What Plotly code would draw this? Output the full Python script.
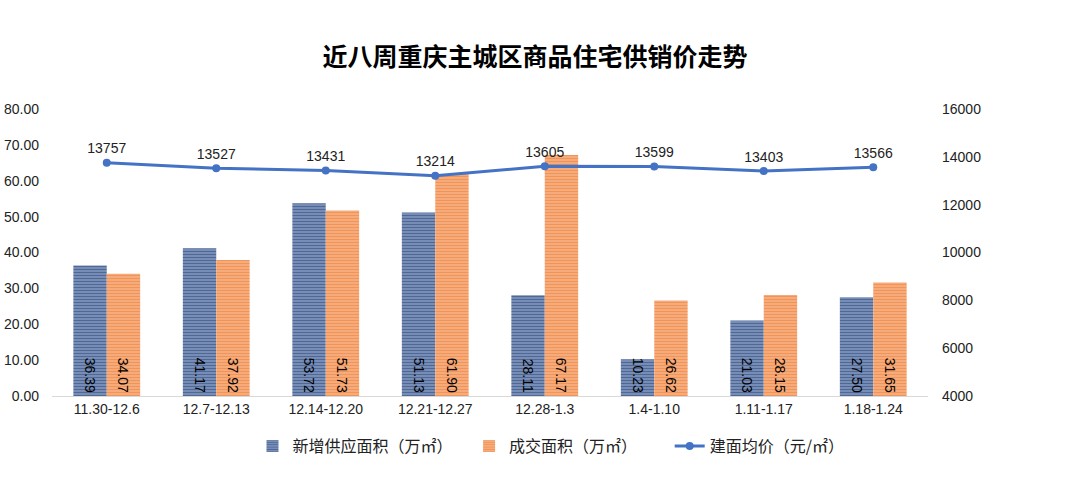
import plotly.graph_objects as go

categories = ["11.30-12.6", "12.7-12.13", "12.14-12.20", "12.21-12.27",
              "12.28-1.3", "1.4-1.10", "1.11-1.17", "1.18-1.24"]
supply = [36.39, 41.17, 53.72, 51.13, 28.11, 10.23, 21.03, 27.50]
deals = [34.07, 37.92, 51.73, 61.90, 67.17, 26.62, 28.15, 31.65]
price = [13757, 13527, 13431, 13214, 13605, 13599, 13403, 13566]

left_ticks = [0, 10, 20, 30, 40, 50, 60, 70, 80]
right_ticks = [4000, 6000, 8000, 10000, 12000, 14000, 16000]

FONT = "Liberation Sans, Noto Sans CJK SC, sans-serif"
CJK = "Noto Sans CJK SC, sans-serif"

W, H = 1080, 487
PL, PR, PT, PB = 52, 928, 109, 396  # plot area in page pixels

fig = go.Figure()
fig.add_trace(go.Bar(
    x=categories, y=supply, name="新增供应面积（万㎡）\u3000\u00a0",
    text=[f"{v:.2f}" for v in supply], textposition="inside",
    insidetextanchor="start", textangle=90, constraintext="none",
    textfont=dict(size=14, color="#000000", family=FONT),
    marker=dict(color="#3C5488", line=dict(width=0),
                pattern=dict(shape="-", fgcolor="#1F3864", bgcolor="#8299C3",
                             size=3, solidity=0.5)),
    yaxis="y",
))
fig.add_trace(go.Bar(
    x=categories, y=deals, name="成交面积（万㎡）\u3000\u3000\u00a0",
    text=[f"{v:.2f}" for v in deals], textposition="inside",
    insidetextanchor="start", textangle=90, constraintext="none",
    textfont=dict(size=14, color="#000000", family=FONT),
    marker=dict(color="#F08A45", line=dict(width=0),
                pattern=dict(shape="-", fgcolor="#EC7524", bgcolor="#F6B287",
                             size=3, solidity=0.5)),
    yaxis="y",
))
fig.add_trace(go.Scatter(
    x=categories, y=price, name="建面均价（元/㎡）",
    mode="lines+markers+text", text=[str(v) for v in price],
    textposition="top center",
    textfont=dict(size=14, color="#222222", family=FONT),
    line=dict(color="#4472C4", width=3),
    marker=dict(color="#4472C4", size=8),
    yaxis="y2",
))

fig.update_layout(
    width=W, height=H,
    paper_bgcolor="white", plot_bgcolor="white",
    margin=dict(l=PL, r=W - PR, t=PT, b=H - PB),
    barmode="group", bargap=0.39, bargroupgap=0,
    title=dict(text="<b>近八周重庆主城区商品住宅供销价走势</b>",
               x=(535 - PL) / (PR - PL), xref="paper", xanchor="center",
               y=1 - 57 / H, yanchor="middle",
               font=dict(size=25, color="#000000", family=CJK)),
    font=dict(family=FONT, size=14, color="#222222"),
    xaxis=dict(showgrid=False, showline=True, linecolor="#D9D9D9", linewidth=1,
               ticks="", automargin=False,
               tickfont=dict(size=14, color="#222222")),
    yaxis=dict(range=[0, 80], tickvals=left_ticks,
               ticktext=[f"{v:.2f}" for v in left_ticks],
               showgrid=False, zeroline=False, showline=False, ticks="",
               ticklabelstandoff=12, automargin=False,
               tickfont=dict(size=14, color="#222222")),
    yaxis2=dict(range=[4000, 16000], tickvals=right_ticks,
                ticktext=[str(v) for v in right_ticks],
                overlaying="y", side="right", showgrid=False, zeroline=False,
                showline=False, ticks="", ticklabelstandoff=13,
                automargin=False,
                tickfont=dict(size=14, color="#222222")),
    legend=dict(orientation="h", x=(551 - PL) / (PR - PL), xanchor="center",
                y=-(446 - PB) / (PB - PT), yanchor="middle",
                font=dict(size=16, family=CJK, color="#222222"),
                itemwidth=30, traceorder="normal"),
    showlegend=True,
)

fig.write_html("out.html",
               config={"displayModeBar": False},
               post_script="document.body.style.margin='0';"
                           "document.body.style.padding='0';")
